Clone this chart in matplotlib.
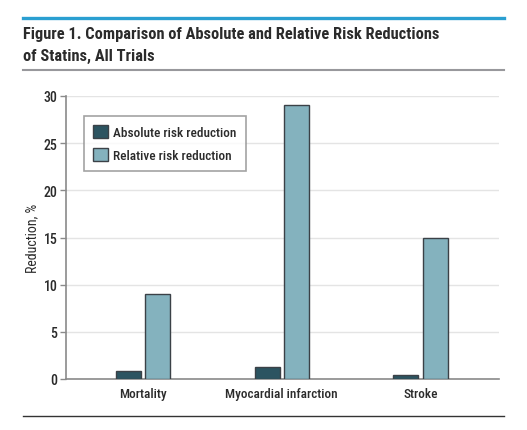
import matplotlib
matplotlib.use("Agg")
import matplotlib.pyplot as plt
from matplotlib.lines import Line2D
from matplotlib.patches import Patch
import numpy as np

# Data
categories = ["Mortality", "Myocardial infarction", "Stroke"]
absolute_rr = [0.8, 1.3, 0.4]
relative_rr = [9, 29, 15]
yticks = [0, 5, 10, 15, 20, 25, 30]

DARK = "#2c5461"
LIGHT = "#84b2be"
EDGE = "#3b4147"
SPINE = "#8a8a8a"
GRID = "#e4e4e4"
TEXT = "#2b2b2b"

plt.rcParams["font.family"] = ["Roboto Condensed", "DejaVu Sans"]
plt.rcParams["font.weight"] = 500

W, H = 527, 431
fig = plt.figure(figsize=(W / 100, H / 100), dpi=100)
ax = fig.add_axes([66 / W, 1 - 380 / H, (499 - 66) / W, (380 - 97) / H])

x = np.arange(len(categories))
bw = 0.18
off = 0.106
ax.bar(x - off, absolute_rr, bw, color=DARK, edgecolor=EDGE, linewidth=1.0, zorder=3)
ax.bar(x + off, relative_rr, bw, color=LIGHT, edgecolor=EDGE, linewidth=1.0, zorder=3)

ax.set_xlim(-0.554, 2.565)
ax.set_ylim(0, 30)
ax.set_yticks(yticks)
ax.set_yticklabels([str(t) for t in yticks], fontsize=10, color=TEXT)
ax.set_xticks(x)
ax.set_xticklabels(categories, fontsize=9.5, color=TEXT)
ax.tick_params(axis="x", length=0, pad=6)
ax.tick_params(axis="y", length=4, color=SPINE, width=1, pad=2)
ax.yaxis.grid(True, color=GRID, linewidth=1, zorder=0)
ax.set_axisbelow(True)
for s in ["top", "right"]:
    ax.spines[s].set_visible(False)
for s in ["left", "bottom"]:
    ax.spines[s].set_color(SPINE)
    ax.spines[s].set_linewidth(1.2)
ax.set_ylabel("Reduction, %", fontsize=10, color=TEXT, labelpad=3)

handles = [Patch(facecolor=DARK, edgecolor=EDGE, label="Absolute risk reduction"),
           Patch(facecolor=LIGHT, edgecolor=EDGE, label="Relative risk reduction")]
leg = ax.legend(handles=handles, loc="upper left", bbox_to_anchor=(0.0416, 0.929),
                borderaxespad=0, fontsize=9.5, frameon=True, fancybox=False,
                handlelength=1.15, handleheight=1.15, handletextpad=0.4,
                borderpad=0.68, labelspacing=0.65)
leg.get_frame().set_edgecolor("#8c8c8c")
leg.get_frame().set_linewidth(1.2)
for t in leg.get_texts():
    t.set_color(TEXT)

# Header / footer rules
fig.add_artist(Line2D([23 / W, 504 / W], [1 - 19 / H] * 2, color="#2a9fd1", linewidth=2.4))
fig.add_artist(Line2D([23 / W, 504 / W], [1 - 71 / H] * 2, color="#98989c", linewidth=1.5))
fig.add_artist(Line2D([23 / W, 504 / W], [1 - 417 / H] * 2, color="#333333", linewidth=1.0))

fig.text(23 / W, 1 - 34 / H, "Figure 1. Comparison of Absolute and Relative Risk Reductions",
         fontsize=11.8, fontweight="semibold", color=TEXT, va="center", ha="left")
fig.text(23 / W, 1 - 56 / H, "of Statins, All Trials",
         fontsize=11.8, fontweight="semibold", color=TEXT, va="center", ha="left")

fig.savefig("out.png", dpi=100)
